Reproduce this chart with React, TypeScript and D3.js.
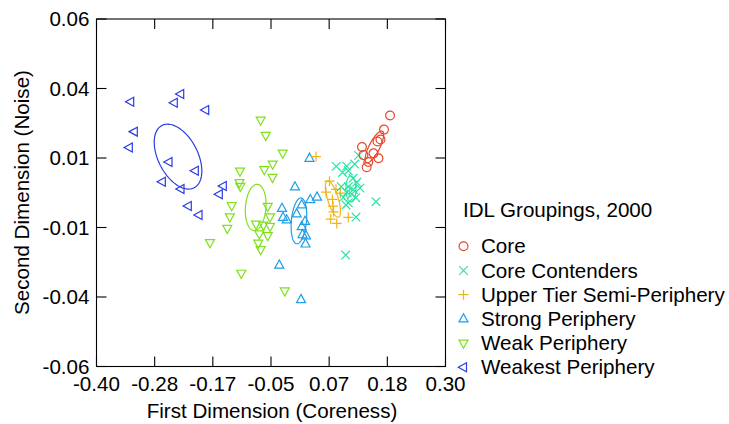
import React from 'react';
import * as d3 from 'd3';

const groupNames = [
  'Core',
  'Core Contenders',
  'Upper Tier Semi-Periphery',
  'Strong Periphery',
  'Weak Periphery',
  'Weakest Periphery',
];
const groupColors = ['#E8462B', '#2BE3A3', '#F0B41A', '#1F9EE6', '#7FE01E', '#2A3CE0'];
const legendTitle = 'IDL Groupings, 2000';
const xTickLabels = ['-0.40', '-0.28', '-0.17', '-0.05', '0.07', '0.18', '0.30'];
const yTickLabels = ['-0.06', '-0.04', '-0.01', '0.01', '0.04', '0.06'];
const xTitle = 'First Dimension (Coreness)';
const yTitle = 'Second Dimension (Noise)';

const core: [number, number][] = [
  [0.1887, 0.0267], [0.1766, 0.0218], [0.1696, 0.0184], [0.1636, 0.0177], [0.1325, 0.0158],
  [0.1556, 0.0136], [0.1656, 0.0119], [0.1355, 0.013], [0.1452, 0.0106], [0.1419, 0.0088],
];
const coreContenders: [number, number][] = [
  [0.1259, 0.0129], [0.0808, 0.0091], [0.1018, 0.0092], [0.1179, 0.0099], [0.0934, 0.007],
  [0.105, 0.0076], [0.1145, 0.005], [0.091, 0.0021], [0.105, 0.0021], [0.1221, 0.0036],
  [0.1151, 0.0011], [0.1285, 0.0016], [0.1024, 0.0001], [0.095, -0.0016], [0.1119, -0.0005],
  [0.105, -0.0035], [0.1201, -0.0017], [0.1004, -0.0042], [0.1606, -0.0031], [0.1205, -0.0084],
  [0.0998, -0.0215],
];
const upperTier: [number, number][] = [
  [0.0403, 0.0125], [0.0673, 0.004], [0.0804, 0.0012], [0.0603, 0.0002], [0.089, -0.0001],
  [0.0733, -0.0023], [0.0743, -0.0046], [0.0754, -0.0066], [0.0697, -0.0091], [0.0818, -0.0106],
  [0.105, -0.0085],
];
const strongPeriphery: [number, number][] = [
  [0.0272, 0.0119], [-0.0019, 0.002], [-0.0279, -0.0054], [-0.0259, -0.0085], [-0.0185, -0.0094],
  [0.0116, -0.0042], [0.0015, -0.0073], [0.0288, -0.0024], [0.0423, -0.0015], [0.0182, -0.0099],
  [0.0116, -0.0117], [0.0132, -0.0145], [0.0202, -0.0149], [0.0192, -0.0177], [-0.0334, -0.025],
  [0.0102, -0.0369],
];
const weakPeriphery: [number, number][] = [
  [-0.0707, 0.0251], [-0.0606, 0.0198], [-0.0265, 0.0137], [-0.0466, 0.0099], [-0.0634, 0.008],
  [-0.047, 0.0053], [-0.1122, 0.0075], [-0.1132, 0.0035], [-0.1116, 0.0022], [-0.1288, -0.0044],
  [-0.1326, -0.0083], [-0.1377, -0.0123], [-0.1724, -0.0172], [-0.0566, -0.0047], [-0.052, -0.0083],
  [-0.0801, -0.0108], [-0.0654, -0.0112], [-0.052, -0.0116], [-0.0735, -0.0142], [-0.0566, -0.0148],
  [-0.0755, -0.0174], [-0.0707, -0.0196], [-0.1096, -0.0278], [-0.0225, -0.0339],
];
const weakestPeriphery: [number, number][] = [
  [-0.3314, 0.0314], [-0.2311, 0.0341], [-0.244, 0.0311], [-0.181, 0.0286], [-0.3242, 0.0211],
  [-0.3342, 0.0156], [-0.2546, 0.0106], [-0.2018, 0.0076], [-0.268, 0.0038], [-0.2305, 0.0013],
  [-0.2159, -0.0046], [-0.1944, -0.0077], [-0.1457, 0.0023], [-0.1537, -0.0005],
];

const groupData = [core, coreContenders, upperTier, strongPeriphery, weakPeriphery, weakestPeriphery];
const drawOrder = [5, 4, 3, 2, 1, 0];

const W = 729;
const H = 424;
const PL = 96.5, PR = 445.5, PT = 19, PB = 366.5;
const FONT = "'Liberation Sans', Arial, Helvetica, sans-serif";
const FS = 20.6;

const x = d3.scaleLinear().domain([-0.4, 0.3]).range([PL, PR]);
const y = d3.scaleLinear().domain([-0.06, 0.06]).range([PB, PT]);

function symbolPath(kind: number, cx: number, cy: number, s = 1): string {
  const p = d3.path();
  if (kind === 0) {
    const r = 4.4 * s;
    p.moveTo(cx + r, cy);
    p.arc(cx, cy, r, 0, Math.PI * 2);
  } else if (kind === 1) {
    const a = 4.3 * s;
    p.moveTo(cx - a, cy - a); p.lineTo(cx + a, cy + a);
    p.moveTo(cx - a, cy + a); p.lineTo(cx + a, cy - a);
  } else if (kind === 2) {
    const a = 5 * s;
    p.moveTo(cx - a, cy); p.lineTo(cx + a, cy);
    p.moveTo(cx, cy - a); p.lineTo(cx, cy + a);
  } else {
    const r = 5.2 * s, h = 3.0 * s, w = 4.5 * s;
    if (kind === 3) {
      p.moveTo(cx, cy - r); p.lineTo(cx + w, cy + h); p.lineTo(cx - w, cy + h);
    } else if (kind === 4) {
      p.moveTo(cx, cy + r); p.lineTo(cx + w, cy - h); p.lineTo(cx - w, cy - h);
    } else {
      p.moveTo(cx - r, cy); p.lineTo(cx + h, cy - w); p.lineTo(cx + h, cy + w);
    }
    p.closePath();
  }
  return p.toString();
}

// 95% Hotelling confidence ellipse for the group mean
function ellipsePath(pts: [number, number][]): string {
  const n = pts.length;
  const mx = d3.mean(pts, (d) => d[0]) as number;
  const my = d3.mean(pts, (d) => d[1]) as number;
  let sxx = 0, syy = 0, sxy = 0;
  pts.forEach(([a, b]) => {
    sxx += (a - mx) * (a - mx);
    syy += (b - my) * (b - my);
    sxy += (a - mx) * (b - my);
  });
  sxx /= n - 1; syy /= n - 1; sxy /= n - 1;
  const c2 = ((n - 1) / n) * (Math.pow(0.05, -2 / (n - 2)) - 1);
  const k = Math.sqrt(c2);
  const l11 = Math.sqrt(sxx);
  const l21 = sxy / l11;
  const l22 = Math.sqrt(Math.max(syy - l21 * l21, 0));
  const ts = d3.range(0, 121).map((i) => (i / 120) * Math.PI * 2);
  const line = d3
    .line<number>()
    .x((t) => x(mx + k * l11 * Math.cos(t)))
    .y((t) => y(my + k * (l21 * Math.cos(t) + l22 * Math.sin(t))))
    .curve(d3.curveLinearClosed);
  return line(ts) || '';
}

export default function App() {
  const xTicks = xTickLabels.map((_, i) => -0.4 + (i * 0.7) / (xTickLabels.length - 1));
  const yTicks = yTickLabels.map((_, i) => -0.06 + (i * 0.12) / (yTickLabels.length - 1));
  const tickLen = 10;
  return (
    <svg
      width={W}
      height={H}
      viewBox={`0 0 ${W} ${H}`}
      style={{ position: 'absolute', left: 0, top: 0, background: '#fff' }}
      fontFamily={FONT}
    >
      <rect x={0} y={0} width={W} height={H} fill="#fff" />
      {/* points */}
      {drawOrder.map((g) => (
        <g key={g} stroke={groupColors[g]} fill="none" strokeWidth={1.2}>
          {groupData[g].map((d, i) => (
            <path key={i} d={symbolPath(g, x(d[0]), y(d[1]))} />
          ))}
        </g>
      ))}
      {/* ellipses */}
      {drawOrder.map((g) => (
        <path key={'e' + g} d={ellipsePath(groupData[g])} fill="none" stroke={groupColors[g]} strokeWidth={1.2} />
      ))}
      {/* frame */}
      <rect x={PL} y={PT} width={PR - PL} height={PB - PT} fill="none" stroke="#000" strokeWidth={1.1} />
      {xTicks.map((t, i) => (
        <g key={'xt' + i}>
          <line x1={x(t)} x2={x(t)} y1={PB} y2={PB - tickLen} stroke="#000" strokeWidth={1.1} />
          <line x1={x(t)} x2={x(t)} y1={PT} y2={PT + tickLen} stroke="#000" strokeWidth={1.1} />
          <text x={x(t)} y={391} textAnchor="middle" fontSize={FS} fill="#000">
            {xTickLabels[i]}
          </text>
        </g>
      ))}
      {yTicks.map((t, i) => (
        <g key={'yt' + i}>
          <line x1={PL} x2={PL + tickLen} y1={y(t)} y2={y(t)} stroke="#000" strokeWidth={1.1} />
          <line x1={PR} x2={PR - tickLen} y1={y(t)} y2={y(t)} stroke="#000" strokeWidth={1.1} />
          <text x={89.5} y={y(t)} dy="0.36em" textAnchor="end" fontSize={FS} fill="#000">
            {yTickLabels[i]}
          </text>
        </g>
      ))}
      <text x={272} y={418} textAnchor="middle" fontSize={FS} fill="#000">
        {xTitle}
      </text>
      <text transform="translate(28.5,192.5) rotate(-90)" textAnchor="middle" fontSize={FS} fill="#000">
        {yTitle}
      </text>
      {/* legend */}
      <text x={463} y={217.3} fontSize={FS} fill="#000">
        {legendTitle}
      </text>
      {groupNames.map((name, i) => {
        const by = 253.3 + i * 24.2;
        return (
          <g key={'lg' + i}>
            <path
              d={symbolPath(i, 463.5, by - 7, 1)}
              fill="none"
              stroke={groupColors[i]}
              strokeWidth={1.2}
            />
            <text x={481} y={by} fontSize={FS} fill="#000">
              {name}
            </text>
          </g>
        );
      })}
    </svg>
  );
}
